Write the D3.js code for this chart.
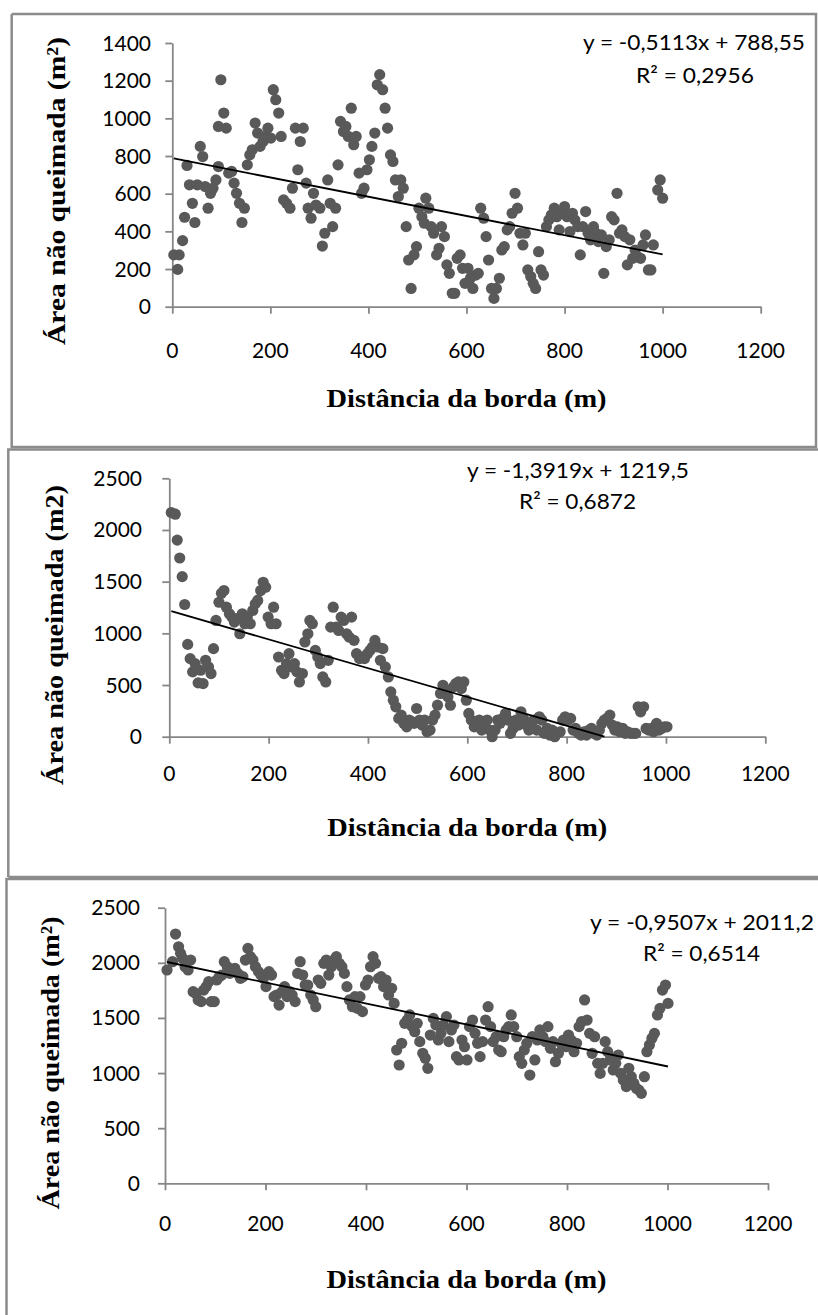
<!DOCTYPE html>
<html><head><meta charset="utf-8">
<script src="https://cdn.jsdelivr.net/npm/d3@7"></script>
<style>body{margin:0;background:#fff}svg{display:block}</style>
</head><body>
<svg id="c" width="818" height="1315"></svg>
<script>
// ---------- data ----------
const xTicks = [0, 200, 400, 600, 800, 1000, 1200];
const yTicks1 = [0, 200, 400, 600, 800, 1000, 1200, 1400];
const yTicks2 = [0, 500, 1000, 1500, 2000, 2500];
const yTicks3 = [0, 500, 1000, 1500, 2000, 2500];

const p1X = [3,14,11,21,25,30,35,41,46,51,57,62,67,73,78,83,89,94,94,99,105,110,115,121,126,131,137,142,147,153,158,163,169,174,179,185,190,195,201,206,211,217,222,227,233,240,245,251,256,261,267,273,277,283,288,293,301,306,311,317,322,327,333,338,343,349,354,359,365,370,375,381,386,391,397,402,407,413,418,423,429,434,439,445,450,455,461,466,471,477,482,487,493,498,503,509,514,517,523,528,533,539,544,549,555,560,565,571,576,581,587,592,597,603,608,613,619,624,629,635,640,645,651,656,661,667,672,677,683,688,693,699,704,709,715,720,725,731,736,741,747,752,757,763,768,773,779,784,789,795,800,805,811,816,821,827,832,837,843,848,853,859,864,869,875,880,885,891,896,901,907,912,917,923,928,933,939,944,949,955,960,965,971,976,981,990,995,1000];
const p1Y = [275,275,198,351,475,750,647,549,447,647,851,797,638,523,602,629,673,744,957,1205,1028,948,709,718,656,602,549,447,523,753,806,833,975,922,851,877,904,948,895,1152,1099,1028,904,567,549,523,629,948,727,877,948,656,523,470,602,540,523,322,390,673,549,425,523,753,984,930,957,904,1054,860,904,709,602,629,727,780,851,922,1178,1232,1152,1054,948,806,771,673,585,673,629,425,248,97,275,319,523,478,443,576,523,425,390,275,310,425,372,222,177,71,71,257,275,204,124,204,151,97,168,177,523,470,372,248,97,44,97,151,301,319,408,425,496,602,523,390,328,390,195,160,124,97,292,195,168,425,461,487,523,478,408,496,532,478,399,496,461,425,275,425,505,390,355,425,390,346,381,177,319,355,478,461,602,390,408,372,222,355,257,301,266,257,328,381,195,195,328,620,673,576];

const p2X = [4,12,16,21,26,31,37,42,47,52,58,63,68,73,79,84,89,94,100,105,110,115,121,126,131,136,142,147,152,157,163,168,173,178,184,189,194,199,205,210,215,220,226,231,236,241,247,252,257,262,268,273,279,283,288,294,299,304,309,315,320,325,330,336,341,346,351,357,362,367,372,377,383,388,393,399,404,409,414,420,425,430,435,441,446,451,456,462,467,472,478,483,488,493,498,504,509,514,519,525,530,535,540,546,551,556,561,566,572,577,582,588,593,598,603,608,614,619,624,629,635,640,645,650,656,661,666,671,677,682,687,692,698,703,708,713,719,724,729,734,740,745,750,755,761,766,771,776,781,787,792,797,803,808,813,818,824,829,835,840,845,850,855,861,866,871,876,881,887,892,897,902,907,913,918,923,928,934,939,944,949,955,960,965,970,975,981,986,991,997,1002];
const p2Y = [2169,2153,1902,1729,1549,1279,893,755,627,707,521,643,514,739,675,611,852,1125,1301,1388,1414,1253,1189,1157,1109,1141,996,1189,1093,1157,1093,1221,1285,1318,1414,1494,1446,1157,1093,1253,1093,771,643,611,707,803,675,707,627,530,611,916,996,1125,1093,835,771,707,578,530,739,1060,1253,1060,1028,1157,1125,996,964,1157,932,803,755,771,755,803,835,868,932,868,739,852,675,578,434,353,289,177,209,129,96,161,145,129,273,161,112,161,48,64,161,209,305,418,498,450,386,305,482,514,530,466,530,353,225,161,96,112,161,64,129,161,64,0,64,161,129,177,225,161,32,80,161,112,241,177,112,64,112,161,64,193,161,32,80,16,64,0,32,48,161,193,161,177,64,80,32,16,48,16,64,80,32,16,64,129,161,177,209,112,64,96,48,80,32,48,32,32,32,289,241,289,80,64,80,48,129,64,80,96,96];

const p3X = [4,15,21,27,31,35,40,46,51,56,61,66,72,77,82,87,92,98,103,108,113,118,124,129,134,139,145,150,155,160,165,170,175,180,186,191,196,201,207,212,217,222,227,233,238,243,248,253,259,264,269,274,279,284,290,295,300,305,310,316,321,326,331,336,341,347,352,357,362,367,373,378,383,388,393,399,404,409,414,419,425,430,435,440,445,451,456,461,466,471,477,482,487,492,497,502,507,513,518,523,528,534,539,544,549,554,560,565,570,575,580,585,591,596,601,606,612,617,622,627,632,638,643,648,653,659,664,669,674,679,684,689,694,700,705,710,715,720,726,731,736,741,746,752,757,762,767,772,777,783,788,793,798,803,808,814,819,824,829,835,840,845,850,855,861,866,871,876,881,886,892,897,902,907,912,918,923,928,933,938,943,948,954,959,964,969,974,980,985,990,996,1001];
const p3Y = [1935,2010,2261,2146,2086,2041,1965,1935,2025,1738,1723,1663,1648,1753,1784,1829,1648,1648,1844,1874,1889,2010,1965,1904,1935,1950,1904,1859,1874,2025,2131,2056,2025,1965,1920,1889,1859,1784,1920,1889,1693,1708,1617,1738,1784,1693,1738,1708,1648,1904,2010,1889,1799,1799,1708,1663,1602,1844,1814,1995,2025,1889,1965,2025,2056,1995,1965,1904,1784,1663,1602,1693,1587,1693,1557,1799,1844,1965,2056,1995,1859,1874,1784,1844,1708,1769,1632,1209,1073,1270,1451,1481,1527,1421,1375,1451,1285,1179,1134,1043,1345,1496,1436,1300,1360,1436,1512,1285,1391,1436,1149,1119,1300,1239,1119,1421,1481,1360,1270,1149,1285,1481,1602,1421,1285,1330,1209,1194,1330,1391,1421,1527,1421,1330,1149,1088,1209,1270,982,1330,1119,1300,1391,1330,1285,1421,1224,1285,1103,1179,1270,1300,1239,1345,1300,1194,1270,1421,1466,1663,1481,1360,1179,1330,1088,997,1088,1285,1194,1119,1028,1088,1164,997,937,877,1043,967,907,862,846,816,967,1194,1255,1315,1360,1527,1587,1753,1799,1632];

const xTitleText = "Distância da borda (m)";
const yTitleTexts = ["Área não queimada (m²)", "Área não queimada (m2)", "Área não queimada (m²)"];
const eqTexts = ["y = -0,5113x + 788,55", "y = -1,3919x + 1219,5", "y = -0,9507x + 2011,2"];
const r2Texts = ["R² = 0,2956", "R² = 0,6872", "R² = 0,6514"];
const slopes = [-0.5113, -1.3919, -0.9507];
const intercepts = [788.55, 1219.5, 2011.2];

// ---------- layout ----------
const panels = [
  {xs:p1X, ys:p1Y, yTicks:yTicks1, yMax:1400, xr:[172.3,760.7], yr:[306.7,43],
   yLabRight:151, xLabBase:358, xTitleBase:407, yT:{cx:57.4, cy:191, len:308},
   eq:{x:583, b:50, len:222}, r2:{x:636, b:83, len:118}},
  {xs:p2X, ys:p2Y, yTicks:yTicks2, yMax:2500, xr:[169.3,765.3], yr:[736.7,478.3],
   yLabRight:142, xLabBase:781, xTitleBase:836, yT:{cx:54.8, cy:635, len:300},
   eq:{x:467, b:478, len:222}, r2:{x:519, b:509, len:117}},
  {xs:p3X, ys:p3Y, yTicks:yTicks3, yMax:2500, xr:[165,768], yr:[1183.3,907.7],
   yLabRight:140, xLabBase:1230.5, xTitleBase:1288, yT:{cx:50.9, cy:1063, len:293},
   eq:{x:590, b:930, len:224}, r2:{x:643, b:961, len:117}}
];

const svg = d3.select("#c");
const FRAME = "#8c8c8c", AXIS = "#868686", DOT = "#595959";
const SANS = "Lato, 'Open Sans', sans-serif";
const SERIF = "'Liberation Serif', 'DejaVu Serif', serif";

// frames
const frames = [
  [[11.7,14],[816,14],[816,447],[11.7,447],[11.7,14]],
  [[8.3,877],[8.3,449.5],[830,449.5]],
  [[830,877],[8.3,877]],
  [[6.5,1330],[6.5,879],[830,879]]
];
svg.selectAll("path.frame").data(frames).join("path")
  .attr("class","frame")
  .attr("d", d => d3.line()(d))
  .attr("fill","none").attr("stroke",FRAME).attr("stroke-width",2.5);

panels.forEach((p, i) => {
  const x = d3.scaleLinear().domain([0,1200]).range(p.xr);
  const y = d3.scaleLinear().domain([0,p.yMax]).range(p.yr);
  const g = svg.append("g");

  // axes
  const ya = g.append("g").attr("transform",`translate(${p.xr[0]},0)`)
    .call(d3.axisLeft(y).tickValues(p.yTicks).tickSize(7).tickSizeOuter(0).tickFormat(""));
  const xa = g.append("g").attr("transform",`translate(0,${p.yr[0]})`)
    .call(d3.axisBottom(x).tickValues(xTicks).tickSize(7).tickSizeOuter(0).tickFormat(""));
  [ya, xa].forEach(a => {
    a.selectAll("path,line").attr("stroke",AXIS).attr("stroke-width",1.8);
  });

  // tick labels
  g.selectAll("text.yl").data(p.yTicks).join("text").attr("class","yl")
    .attr("x", p.yLabRight).attr("y", d => y(d) + 7.5)
    .attr("text-anchor","end").attr("font-family",SANS).attr("font-size",21)
    .attr("fill","#000").text(d => d);
  g.selectAll("text.xl").data(xTicks).join("text").attr("class","xl")
    .attr("x", d => x(d)).attr("y", p.xLabBase)
    .attr("text-anchor","middle").attr("font-family",SANS).attr("font-size",21)
    .attr("fill","#000").text(d => d);

  // points
  const pts = p.xs.map((v, k) => [v, p.ys[k]]);
  g.selectAll("circle").data(pts).join("circle")
    .attr("cx", d => x(d[0])).attr("cy", d => y(d[1])).attr("r", 5.6)
    .attr("fill", DOT);

  // trend line
  const m = slopes[i], b = intercepts[i];
  const x0 = d3.min(p.xs);
  let x1 = d3.max(p.xs);
  if (m * x1 + b < 0) x1 = -b / m;
  g.append("path").attr("d", d3.line()([[x(x0), y(m*x0+b)], [x(x1), y(m*x1+b)]]))
    .attr("stroke","#000").attr("stroke-width",1.8).attr("fill","none");

  // equation labels
  g.append("text").attr("x", p.eq.x).attr("y", p.eq.b)
    .attr("font-family",SANS).attr("font-size",22).attr("fill","#000")
    .attr("textLength", p.eq.len).attr("lengthAdjust","spacingAndGlyphs")
    .text(eqTexts[i]);
  g.append("text").attr("x", p.r2.x).attr("y", p.r2.b)
    .attr("font-family",SANS).attr("font-size",22).attr("fill","#000")
    .attr("textLength", p.r2.len).attr("lengthAdjust","spacingAndGlyphs")
    .text(r2Texts[i]);

  // axis titles
  g.append("text").attr("x", (p.xr[0]+p.xr[1])/2 - 140).attr("y", p.xTitleBase)
    .attr("font-family",SERIF).attr("font-weight","bold").attr("font-size",25)
    .attr("fill","#000").attr("textLength",280).attr("lengthAdjust","spacingAndGlyphs")
    .text(xTitleText);
  g.append("text")
    .attr("transform", `translate(${p.yT.cx + 8},${p.yT.cy + p.yT.len/2}) rotate(-90)`)
    .attr("x", 0).attr("y", 0)
    .attr("font-family",SERIF).attr("font-weight","bold").attr("font-size",26)
    .attr("fill","#000").attr("textLength",p.yT.len).attr("lengthAdjust","spacingAndGlyphs")
    .text(yTitleTexts[i]);
});
</script>
</body></html>
